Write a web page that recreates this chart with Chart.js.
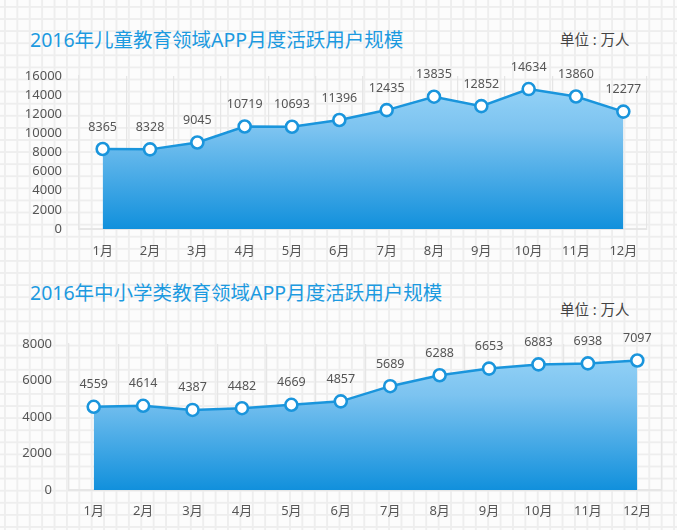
<!DOCTYPE html>
<html>
<head>
<meta charset="utf-8">
<script src="https://cdn.jsdelivr.net/npm/chart.js@4/dist/chart.umd.min.js"></script>
<style>
  html, body { margin:0; padding:0; }
  body {
    width:677px; height:530px; position:relative; overflow:hidden;
    background-color:#fcfcfc;
    background-image:
      linear-gradient(to right, #eeeeee 1.5px, transparent 1.5px),
      linear-gradient(to bottom, #eeeeee 1.5px, transparent 1.5px);
    background-size:12.4px 12.1px;
    background-position:4px 6px;
    font-family:"Noto Sans","Noto Sans CJK SC",sans-serif;
  }
  .title { position:absolute; left:30px; font-size:19.5px; color:#1c9ae0; white-space:nowrap; line-height:1; }
  .unit { position:absolute; left:560px; font-size:14.5px; color:#444; white-space:nowrap; line-height:1; }
  .cv { position:absolute; left:0; }
</style>
</head>
<body>
<div class="title" style="top:30px;">2016年儿童教育领域APP月度活跃用户规模</div>
<div class="unit" style="top:32px;">单位 : 万人</div>
<div class="title" style="top:283px;">2016年中小学类教育领域APP月度活跃用户规模</div>
<div class="unit" style="top:302px;">单位 : 万人</div>
<div class="cv" style="top:0;width:677px;height:270px;"><canvas id="c1"></canvas></div>
<div class="cv" style="top:270px;width:677px;height:260px;"><canvas id="c2"></canvas></div>
<script>
const months = ["1月","2月","3月","4月","5月","6月","7月","8月","9月","10月","11月","12月"];
const childrenUsers = [8365, 8328, 9045, 10719, 10693, 11396, 12435, 13835, 12852, 14634, 13860, 12277];
const k12Users = [4559, 4614, 4387, 4482, 4669, 4857, 5689, 6288, 6653, 6883, 6938, 7097];
const childrenTicks = [0, 2000, 4000, 6000, 8000, 10000, 12000, 14000, 16000];
const k12Ticks = [0, 2000, 4000, 6000, 8000];

const FONT = '"Noto Sans","Noto Sans CJK SC",sans-serif';

const labelPlugin = {
  id: 'pointLabels',
  afterDatasetsDraw(chart) {
    const ctx = chart.ctx;
    const meta = chart.getDatasetMeta(0);
    const data = chart.data.datasets[0].data;
    ctx.save();
    ctx.font = '12.5px ' + FONT;
    ctx.fillStyle = '#555555';
    ctx.textAlign = 'center';
    ctx.textBaseline = 'middle';
    meta.data.forEach((pt, i) => {
      ctx.fillText(String(data[i]), pt.x, pt.y - 22);
    });
    ctx.restore();
  }
};

function makeChart(id, values, ticks, cfg) {
  const ctx = document.getElementById(id);
  return new Chart(ctx, {
    type: 'line',
    data: {
      labels: months,
      datasets: [{
        data: values,
        borderColor: '#1a95dc',
        borderWidth: 2.5,
        pointRadius: 6,
        pointHoverRadius: 6,
        pointBackgroundColor: '#ffffff',
        pointBorderColor: '#1a95dc',
        pointBorderWidth: 2.6,
        tension: 0,
        fill: 'origin',
        backgroundColor: (c) => {
          const a = c.chart.chartArea;
          if (!a) return '#5ab0ea';
          const g = c.chart.ctx.createLinearGradient(0, a.top, 0, a.bottom);
          g.addColorStop(0, '#9ad6f8');
          g.addColorStop(0.35, '#7cc3f0');
          g.addColorStop(1, '#1190dc');
          return g;
        }
      }]
    },
    options: {
      responsive: true,
      maintainAspectRatio: false,
      animation: false,
      events: [],
      layout: { padding: { top: cfg.top, right: cfg.right, left: 0, bottom: 0 } },
      plugins: { legend: { display: false }, tooltip: { enabled: false } },
      scales: {
        x: {
          type: 'category',
          offset: true,
          grid: { display: true, offset: true, color: '#e6e6e6', lineWidth: 1.2, drawTicks: false },
          border: { display: true, color: '#e6e6e6', width: 2 },
          ticks: { color: '#555555', font: { family: FONT, size: 13 }, padding: cfg.xpad, maxRotation: 0, autoSkip: false },
          afterFit: (s) => { s.height = cfg.xh; }
        },
        y: {
          min: ticks[0],
          max: ticks[ticks.length - 1],
          afterBuildTicks: (s) => { s.ticks = ticks.map(v => ({ value: v })); },
          grid: { display: false, drawTicks: false },
          border: { display: true, color: '#e6e6e6', width: 1.2 },
          ticks: {
            color: '#555555', font: { family: FONT, size: 13 }, padding: 17, autoSkip: false,
            callback: (v) => String(v)
          },
          afterFit: (s) => { s.width = cfg.yw; }
        }
      }
    },
    plugins: [labelPlugin]
  });
}

makeChart('c1', childrenUsers, childrenTicks, { top: 76, right: 30, yw: 79, xh: 41, xpad: 14 });
makeChart('c2', k12Users, k12Ticks, { top: 74, right: 15, yw: 69, xh: 40, xpad: 13 });
</script>
</body>
</html>
